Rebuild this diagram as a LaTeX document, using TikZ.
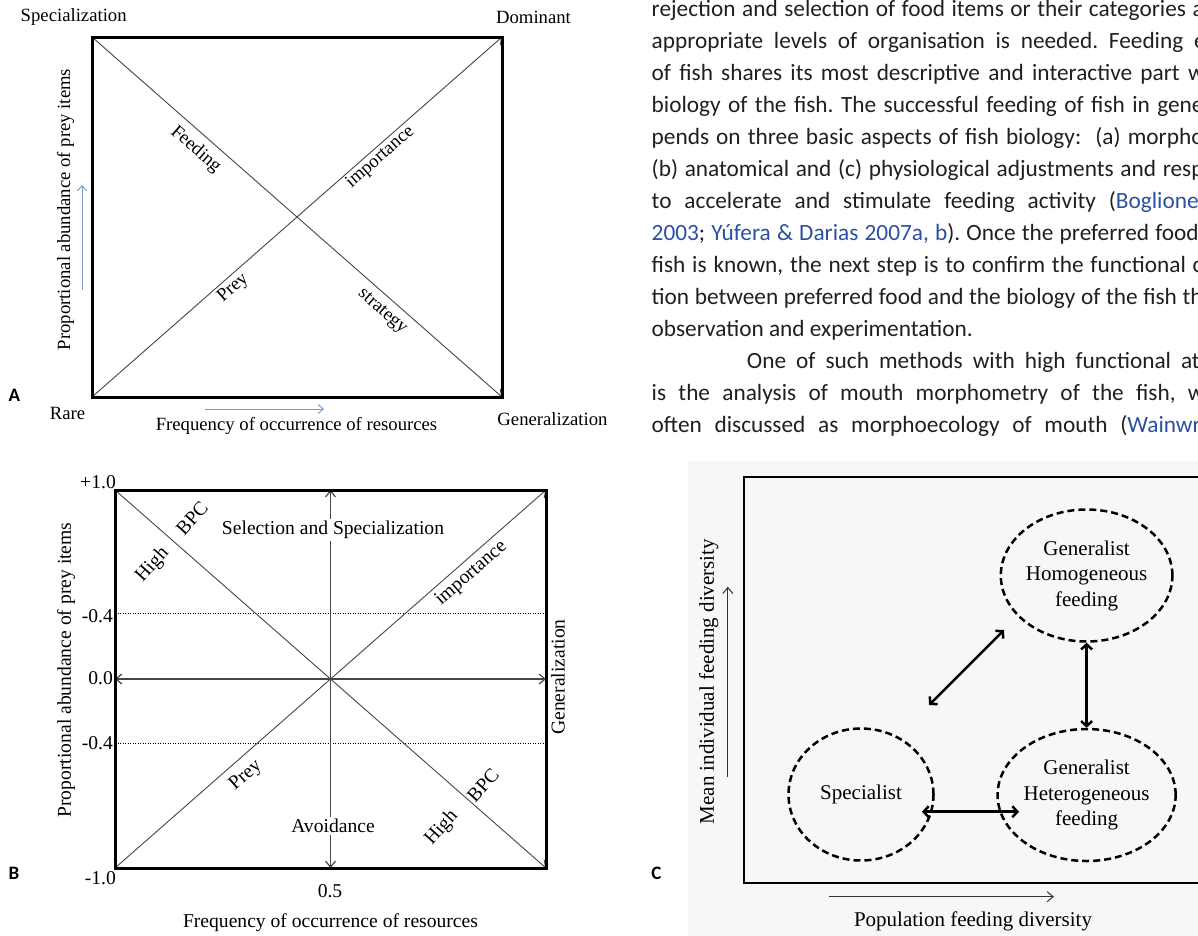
\documentclass[tikz,border=0pt]{standalone}
\usepackage{fontspec}
\setmainfont{Liberation Serif}
\newfontfamily\calib{Carlito}
\usetikzlibrary{arrows.meta,shapes.geometric}
\definecolor{citeblue}{RGB}{44,80,163}
\definecolor{bodyink}{RGB}{35,31,32}
\definecolor{axisblue}{RGB}{120,155,210}
\definecolor{panelbg}{RGB}{246,247,249}
\definecolor{lineg}{RGB}{70,70,70}
\newcommand\myfA{\fontsize{18.7}{22}\selectfont}
\newcommand\myfB{\fontsize{19.6}{23}\selectfont}
\newcommand\myfC{\fontsize{21}{25.5}\selectfont}
\newcommand\myBody{\calib\fontsize{23.3}{32}\selectfont}
\newcommand\myPanel{\calib\bfseries\fontsize{19}{22}\selectfont}
\frenchspacing
\begin{document}
\begin{tikzpicture}[x=1pt,y=-1pt,
  frame/.style={line width=3pt},
  diag/.style={draw=lineg, line width=0.9pt, >={Straight Barb[length=6pt,width=10pt]}, <->},
  dlab/.style={sloped, inner sep=0pt},
  midl/.style={draw=lineg, line width=1.2pt, >={Straight Barb[length=6pt,width=10pt]}, <->},
  dotl/.style={draw=black, line width=0.9pt, dash pattern=on 1pt off 1.5pt},
  bluearr/.style={draw=axisblue, line width=1pt, ->, >={Straight Barb[length=5pt,width=9pt]}},
  circ/.style={ellipse, draw, line width=2.5pt, dash pattern=on 7pt off 4pt, minimum width=145pt, minimum height=132pt, inner sep=0pt, align=center, font=\myfC},
  carr/.style={draw, line width=2.5pt, <->, >={Straight Barb[length=5pt,width=11pt]}},
  thinarr/.style={draw=black!80, line width=1pt, ->, >={Straight Barb[length=6pt,width=10pt]}},
  bline/.style={anchor=mid west, inner sep=0pt, font=\myBody, text=bodyink},
  plab/.style={font=\myPanel, inner sep=0pt}
]
\useasboundingbox (0,0) rectangle (1198,935);
\clip (0,0) rectangle (1198,935);
\fill[white] (0,0) rectangle (1198,935);

% ---------------- Panel A ----------------
\coordinate (aTL) at (92,37);
\coordinate (aTR) at (502,37);
\coordinate (aBL) at (92,397);
\coordinate (aBR) at (502,397);
\draw[diag] (aTL) -- node[dlab, pos=0.279, below=7.2pt, font=\myfA] (aFeed) {Feeding}
                     node[dlab, pos=0.732, below=7.6pt, font=\myfA] (aStrat) {strategy} (aBR);
\draw[diag] (aBL) -- node[dlab, pos=0.326, below=3pt, font=\myfA] (aPrey) {Prey}
                     node[dlab, pos=0.687, below=1.5pt, font=\myfA] (aImp) {importance} (aTR);
\draw[frame] (aTL) rectangle (aBR);
\node[font=\myfA] (aSpec) at (73.7,17.3) {Specialization};
\node[font=\myfA] (aDom) at (533.5,17) {Dominant};
\node[font=\myfA] (aRare) at (67.5,413.7) {Rare};
\node[font=\myfA] (aFreq) at (296.5,426) {Frequency of occurrence of resources};
\node[font=\myfA] (aGen) at (552.5,419) {Generalization};
\node[font=\myfA, rotate=90] (aProp) at (65.5,209.5) {Proportional abundance of prey items};
\coordinate (aUp0) at (82,290);
\coordinate (aUp1) at (82,185);
\coordinate (aRt0) at (205,409);
\coordinate (aRt1) at (324,409);
\draw[bluearr] (aUp0) -- (aUp1);
\draw[bluearr] (aRt0) -- (aRt1);
\node[plab] (aLab) at (14.5,395) {A};

% ---------------- Panel B ----------------
\coordinate (bTL) at (115,490);
\coordinate (bTR) at (546,490);
\coordinate (bBL) at (115,868);
\coordinate (bBR) at (546,868);
\coordinate (bL) at (115,679);
\coordinate (bR) at (546,679);
\coordinate (bT) at (330.5,490);
\coordinate (bB) at (330.5,868);
\coordinate (bD1L) at (115,613);
\coordinate (bD1R) at (546,613);
\coordinate (bD2L) at (115,743);
\coordinate (bD2R) at (546,743);
\draw[dotl] (bD1L) -- (bD1R);
\draw[dotl] (bD2L) -- (bD2R);
\draw[midl] (bL) -- (bR);
\draw[midl] (bT) -- (bB);
\draw[diag] (bTL) -- (bBR);
\draw[diag] (bBL) -- node[dlab, pos=0.278, below=7.8pt, font=\myfB] (bPrey) {Prey}
                     node[dlab, pos=0.806, below=4.5pt, font=\myfB] (bImp) {importance} (bTR);
\draw[frame] (bTL) rectangle (bBR);
\node[font=\myfB, fill=white, inner sep=2pt] (bSel) at (333,530) {Selection and Specialization};
\node[font=\myfB, fill=white, inner sep=2pt] (bAvo) at (333,826) {Avoidance};
\node[font=\myfB, rotate=48] (bHigh1) at (152.6,565) {High};
\node[font=\myfB, rotate=48] (bBPC1) at (192,518) {BPC};
\node[font=\myfB, rotate=48] (bHigh2) at (441.7,828) {High};
\node[font=\myfB, rotate=48] (bBPC2) at (483,785) {BPC};
\node[font=\myfB, anchor=east, inner sep=0pt] (bP10) at (116,482.3) {+1.0};
\node[font=\myfB, anchor=east, inner sep=0pt] (bP04) at (113,616) {-0.4};
\node[font=\myfB, anchor=east, inner sep=0pt] (bZ) at (113,678) {0.0};
\node[font=\myfB, anchor=east, inner sep=0pt] (bM04) at (113,743.3) {-0.4};
\node[font=\myfB, anchor=east, inner sep=0pt] (bM10) at (116,878) {-1.0};
\node[font=\myfB] (bHalf) at (330,891) {0.5};
\node[font=\myfB] (bFreq) at (330.5,923) {Frequency of occurrence of resources};
\node[font=\myfB, rotate=90] (bProp) at (66,670) {Proportional abundance of prey items};
\node[font=\myfB, rotate=90] (bGen) at (558,677) {Generalization};
\node[plab] (bLab) at (14,873) {B};

% ---------------- Panel C ----------------
\fill[panelbg] (688,461) rectangle (1200,937);
\draw[line width=2.6pt] (744,477) rectangle (1240,883);
\node[circ] (top) at (1086.6,575.5) {Generalist\\Homogeneous\\feeding};
\node[circ] (het) at (1086.6,795) {Generalist\\Heterogeneous\\feeding};
\node[circ] (spec) at (861,794.5) {Specialist};
\draw[carr] (top) -- (het);
\coordinate (hA) at (922,811.7);
\coordinate (hB) at (1019,811.7);
\draw[carr] (hA) -- (hB);
\coordinate (dA) at (929,705);
\coordinate (dB) at (1004,630);
\draw[carr] (dA) -- (dB);
\coordinate (cUp0) at (727.8,776.7);
\coordinate (cUp1) at (727.8,586.7);
\draw[thinarr] (cUp0) -- (cUp1);
\coordinate (cRt0) at (828.8,896.7);
\coordinate (cRt1) at (1053.9,896.7);
\draw[thinarr] (cRt0) -- (cRt1);
\node[font=\myfC, rotate=90] (cMean) at (708.7,681.5) {Mean individual feeding diversity};
\node[font=\myfC] (cPop) at (973,921.7) {Population feeding diversity};
\node[plab] (cLab) at (656.5,873) {C};

% ---------------- Body text ----------------
\node[bline] (t1) at (651.5,14) {\makebox[552pt][s]{rejection and selection of food items or their categories a}};
\node[bline] (t2) at (651.5,46) {\makebox[554pt][s]{appropriate levels of organisation is needed. Feeding e}};
\node[bline] (t3) at (651.5,78) {\makebox[553pt][s]{of fish shares its most descriptive and interactive part w}};
\node[bline] (t4) at (651.5,110) {\makebox[552pt][s]{biology of the fish. The successful feeding of fish in gene}};
\node[bline] (t5) at (651.5,142) {\makebox[552pt][s]{pends on three basic aspects of fish biology:\ \ (a) morpho}};
\node[bline] (t6) at (651.5,174) {\makebox[552pt][s]{(b) anatomical and (c) physiological adjustments and resp}};
\node[bline] (t7) at (651.5,206) {\makebox[547pt][s]{to accelerate and stimulate feeding activity (\textcolor{citeblue}{Boglione}}};
\node[bline] (t8) at (651.5,238) {\makebox[547pt][s]{\textcolor{citeblue}{2003}; \textcolor{citeblue}{Yúfera \& Darias 2007a, b}). Once the preferred food}};
\node[bline] (t9) at (651.5,270) {\makebox[551pt][s]{fish is known, the next step is to confirm the functional c}};
\node[bline] (t10) at (651.5,302) {\makebox[551pt][s]{tion between preferred food and the biology of the fish th}};
\node[bline] (t11) at (651.5,334) {observation and experimentation.};
\node[bline] (t12) at (746.7,366) {\makebox[453pt][s]{One of such methods with high functional at}};
\node[bline] (t13) at (651.5,398) {\makebox[553pt][s]{is the analysis of mouth morphometry of the fish, w}};
\node[bline] (t14) at (651.5,430) {\makebox[549pt][s]{often discussed as morphoecology of mouth (\textcolor{citeblue}{Wainwr}}};
\end{tikzpicture}
\end{document}
